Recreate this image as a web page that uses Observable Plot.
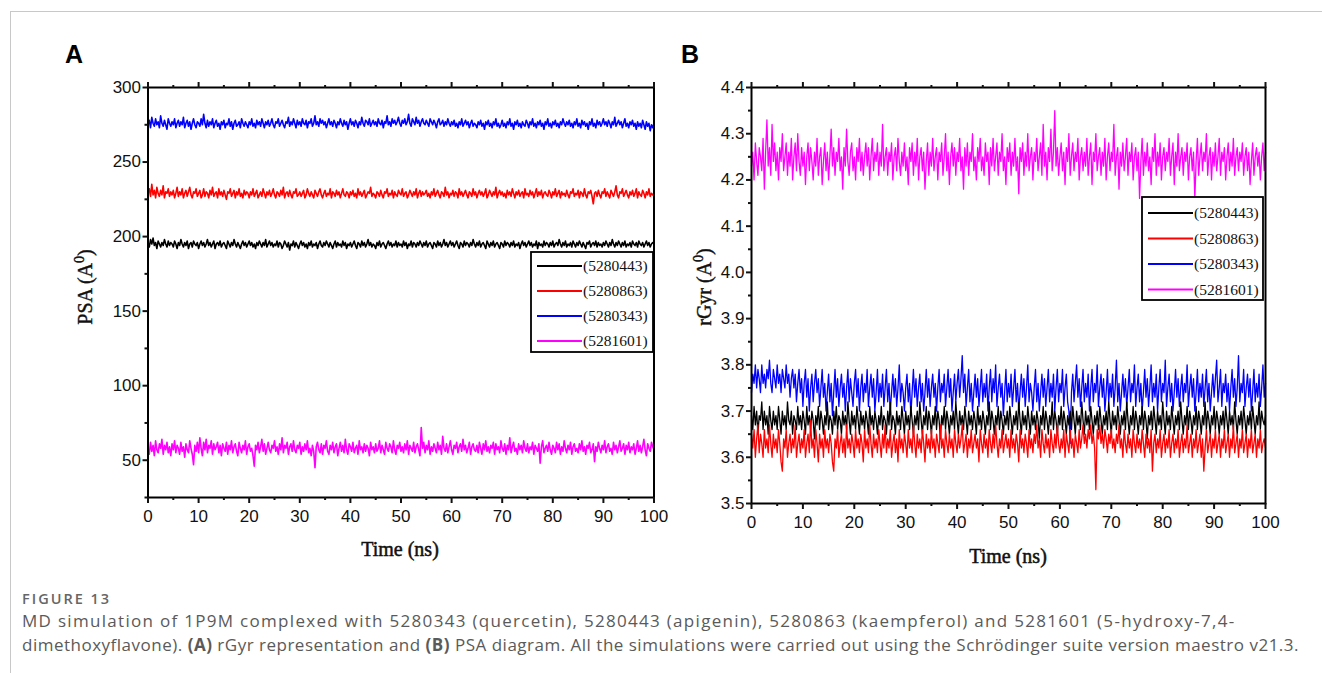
<!DOCTYPE html>
<html><head><meta charset="utf-8">
<script src="https://cdn.jsdelivr.net/npm/d3@7"></script>
<script src="https://cdn.jsdelivr.net/npm/@observablehq/plot@0.6"></script>
<style>
html,body{margin:0;padding:0;background:#fff;}
#wrap{position:relative;width:1322px;height:673px;overflow:hidden;background:#fff;}
#topline{position:absolute;left:10px;top:11px;width:1312px;height:0;border-top:1px solid #c8c8c8;}
#leftline{position:absolute;left:10px;top:11px;width:0;height:670px;border-left:1px solid #c8c8c8;}
#pa{position:absolute;left:0;top:0;}
#pb{position:absolute;left:680px;top:0;}
.plabel{position:absolute;font-family:"Liberation Sans",Arial,sans-serif;font-weight:bold;font-size:25px;color:#000;}
.cap{position:absolute;left:22px;font-family:"Open Sans",sans-serif;color:#5a5a5a;white-space:nowrap;}
</style></head>
<body><div id="wrap">
<div id="topline"></div><div id="leftline"></div>
<div id="pa"></div><div id="pb"></div>
<div class="plabel" style="left:65px;top:40px;">A</div>
<div class="plabel" style="left:681px;top:40px;">B</div>
<div class="cap" style="top:589px;font-size:14.5px;font-weight:600;letter-spacing:2px;color:#666;">FIGURE 13</div>
<div class="cap" style="top:609px;font-size:17px;line-height:24px;letter-spacing:1.3px;">MD simulation of 1P9M complexed with 5280343 (quercetin), 5280443 (apigenin), 5280863 (kaempferol) and 5281601 (5-hydroxy-7,4-</div>
<div class="cap" style="top:633px;font-size:17px;line-height:24px;letter-spacing:0.5px;">dimethoxyflavone). <b>(A)</b> rGyr representation and <b>(B)</b> PSA diagram. All the simulations were carried out using the Schrödinger suite version maestro v21.3.</div>
</div>
<script>
const seriesNames = ["(5280443)", "(5280863)", "(5280343)", "(5281601)"];
const seriesColors = ["#000000", "#ff0000", "#0000ff", "#ff00ff"];
const xMajorTicks = [0,10,20,30,40,50,60,70,80,90,100];
const xMinorTicks = [5,15,25,35,45,55,65,75,85,95];
const psaMajorTicks = [50,100,150,200,250,300];
const psaMinorTicks = [25,75,125,175,225,275];
const rgyrMajorTicks = [3.5,3.6,3.7,3.8,3.9,4.0,4.1,4.2,4.3,4.4];
const rgyrMinorTicks = [3.55,3.65,3.75,3.85,3.95,4.05,4.15,4.25,4.35];
// each series is sampled evenly over 0–100 ns

// Panel A: PSA
const psa5280443 = [196,193,198,195,199,194,196,192,197,195,193,196,194,198,195,193,197,194,196,195,
193,197,195,192,196,194,198,195,193,196,194,197,192,195,196,193,197,195,194,196,
192,195,197,194,196,193,195,198,194,196,193,195,197,192,195,196,194,197,193,195,
196,194,192,197,195,193,196,194,198,195,193,196,194,192,195,197,194,196,193,195,
197,194,196,193,195,192,196,194,197,195,193,196,194,198,193,195,197,194,196,193,
195,194,197,193,196,195,192,194,197,195,193,196,191,195,194,197,193,196,194,192,
195,197,194,196,193,195,192,196,194,197,193,195,194,196,192,195,197,194,193,196,
194,197,195,193,196,194,192,195,197,193,196,194,195,193,197,194,196,192,195,194,
196,193,195,197,194,192,196,195,193,197,194,196,193,195,198,194,196,193,195,194,
192,196,194,197,193,195,196,194,192,195,197,194,196,193,195,194,197,193,196,194,
195,193,197,194,196,192,195,194,197,193,196,195,193,196,194,197,195,193,196,194,
197,193,195,196,194,192,196,195,193,197,194,196,193,195,198,194,196,193,195,197,
194,196,193,195,197,194,192,196,195,193,197,194,196,195,193,196,194,198,195,193,
196,194,197,193,195,196,194,192,197,195,193,196,194,197,193,195,196,194,192,196,
195,193,197,194,196,195,193,196,194,197,193,195,194,196,192,195,197,194,196,193,
195,197,194,196,193,195,194,197,192,196,194,195,193,197,194,196,195,193,196,194,
197,193,195,196,194,198,195,193,196,194,197,193,195,194,196,193,197,195,193,196,
194,197,195,193,196,194,192,196,195,197,193,195,196,194,197,193,196,194,195,193,
196,194,197,195,193,196,194,198,195,193,196,194,197,195,193,196,194,197,193,195,
194,196,193,197,195,194,196,193,197,195,194,196,193,195,197,194,196,193,195,196,
195];
const psa5280863 = [229,232,227,235,228,231,226,233,229,227,231,228,234,226,230,229,232,227,230,228,
231,226,229,233,227,230,228,232,226,229,231,227,230,233,228,226,230,229,232,227,
229,231,226,228,232,227,230,229,226,231,228,233,227,229,230,226,232,228,230,227,
231,228,225,230,229,232,227,229,231,226,230,228,232,227,229,226,231,228,230,229,
226,230,228,232,227,229,231,226,228,230,227,232,229,226,230,228,231,227,229,232,
228,226,230,229,227,231,228,233,226,229,230,227,231,228,226,230,229,232,227,228,
230,227,229,231,226,228,232,229,227,230,228,226,231,229,227,230,232,228,226,229,
231,227,229,228,232,226,230,229,227,231,228,230,226,229,232,228,227,230,229,226,
230,228,231,227,229,226,232,228,230,227,229,231,226,228,230,229,233,227,229,228,
226,230,229,227,231,228,226,230,229,232,227,229,228,231,226,230,228,227,231,229,
228,232,227,229,230,226,228,231,229,227,230,228,232,226,229,231,227,230,228,229,
231,227,229,226,230,228,232,227,229,231,228,226,230,229,227,233,228,230,226,229,
228,231,227,230,229,226,232,228,230,227,229,231,228,226,230,229,227,232,228,230,
226,229,231,228,230,227,229,232,226,228,231,229,227,230,228,233,226,229,231,228,
230,227,229,226,231,228,230,227,232,229,226,230,228,231,227,229,230,226,232,228,
229,227,231,228,230,226,229,232,227,230,228,231,226,229,230,228,227,231,229,226,
230,228,232,227,229,231,226,230,228,229,227,231,228,226,230,229,232,227,229,228,
231,226,230,229,227,232,228,226,230,229,231,227,222,229,230,227,231,228,226,230,
229,232,227,230,228,226,231,229,227,230,234,228,226,230,229,232,227,229,231,228,
226,230,228,231,227,229,232,226,230,228,227,231,229,226,230,228,232,227,229,228,
227];
const psa5280343 = [275,278,273,280,276,274,279,275,277,273,281,276,274,278,275,272,279,276,274,277,
275,279,273,276,278,274,277,275,280,273,276,278,274,277,272,276,279,275,273,277,
276,274,279,275,282,276,273,278,274,277,275,279,273,276,278,274,276,272,277,275,
278,273,276,275,279,274,277,272,276,278,274,275,277,273,279,276,274,277,275,273,
277,275,279,274,276,273,278,275,277,274,279,276,273,277,275,278,274,276,279,275,
273,277,276,279,274,276,278,275,273,277,276,280,274,277,275,279,276,273,278,275,
277,274,279,276,275,278,273,277,276,279,274,276,281,275,277,274,279,276,278,275,
277,273,276,279,275,277,274,278,276,273,277,275,279,276,274,278,275,277,272,276,
279,275,277,274,278,276,273,277,275,280,276,274,278,277,275,279,274,276,278,275,
277,274,279,276,275,278,273,277,276,281,275,277,274,279,276,278,275,277,280,276,
274,278,276,279,275,277,282,276,274,279,277,275,280,276,278,274,277,279,276,275,
278,276,274,279,277,275,278,276,273,277,279,275,276,278,274,277,275,279,276,274,
277,275,278,274,276,273,277,275,279,274,276,278,275,277,273,276,278,274,276,275,
273,277,275,278,274,276,272,277,275,278,274,276,273,277,275,279,274,276,273,275,
278,274,276,273,277,275,279,274,276,272,277,275,278,274,276,273,277,275,274,278,
276,273,277,275,279,274,276,273,277,275,278,274,276,272,277,275,279,274,276,273,
277,275,278,274,276,273,277,275,279,276,274,277,275,278,274,276,273,277,275,279,
274,276,273,278,275,277,274,276,272,277,275,279,274,276,273,278,275,277,274,276,
279,275,277,274,278,276,273,277,275,280,274,276,278,275,277,273,276,279,274,276,
273,277,275,278,274,276,272,277,274,276,273,278,275,272,277,274,276,271,275,273,
276];
const psa5281601 = [58,54,62,56,60,53,63,57,55,61,58,64,54,60,57,62,55,59,53,61,
57,63,55,60,58,54,62,56,59,52,61,57,55,63,58,54,47,60,56,62,
55,65,58,53,62,57,64,55,60,58,63,54,61,57,59,62,55,60,53,61,
58,56,62,54,60,57,63,55,59,61,56,53,62,58,55,60,57,63,54,59,
61,56,58,53,46,60,57,62,55,59,64,56,61,54,58,62,57,55,60,58,
63,56,59,54,61,57,65,55,60,58,62,54,59,61,56,63,57,55,60,58,
62,54,59,56,61,57,63,55,58,53,60,56,45,59,62,57,55,61,54,60,
58,63,56,54,60,57,62,55,59,61,53,58,62,56,60,55,64,57,54,61,
59,56,62,55,58,60,54,63,57,59,55,61,56,60,58,53,62,57,59,55,
61,56,58,63,55,60,57,54,62,58,56,61,59,55,63,57,54,60,58,62,
56,59,55,61,57,63,54,60,58,56,62,55,59,61,57,53,72,58,62,55,
60,57,63,54,59,56,61,58,55,62,57,60,54,66,58,56,61,55,59,63,
57,54,60,58,62,55,59,61,56,64,57,60,55,58,62,54,59,61,57,56,
60,55,62,58,54,61,57,63,56,59,55,60,58,62,54,61,57,59,55,63,
58,56,61,54,60,57,65,55,59,62,56,58,54,61,57,60,55,63,58,56,
61,55,59,57,62,54,60,58,56,61,48,59,63,55,58,60,56,62,57,54,
60,58,55,62,57,61,54,59,56,63,58,55,60,57,62,54,59,61,56,58,
55,61,57,63,56,59,54,60,58,62,55,57,61,49,59,56,62,58,55,60,
57,63,55,59,61,56,58,54,62,57,60,55,59,63,56,58,61,54,60,57,
62,55,59,57,61,54,58,63,56,60,55,59,64,57,53,61,58,56,62,59,
57];

// Panel B: rGyr
const rgyr5280443 = [3.69,3.66,3.71,3.67,3.70,3.65,3.69,3.68,3.72,3.66,3.70,3.67,3.69,3.65,3.71,3.68,3.66,3.70,3.67,3.69,
3.66,3.71,3.68,3.65,3.70,3.67,3.69,3.66,3.72,3.68,3.67,3.70,3.65,3.69,3.68,3.66,3.71,3.67,3.69,3.66,
3.70,3.68,3.65,3.71,3.67,3.69,3.66,3.70,3.68,3.64,3.69,3.67,3.71,3.66,3.70,3.68,3.65,3.69,3.67,3.72,
3.66,3.69,3.68,3.65,3.70,3.67,3.71,3.66,3.69,3.68,3.65,3.70,3.67,3.69,3.66,3.72,3.68,3.65,3.70,3.67,
3.69,3.66,3.71,3.68,3.65,3.70,3.67,3.69,3.66,3.70,3.68,3.65,3.71,3.67,3.69,3.66,3.70,3.68,3.65,3.69,
3.67,3.71,3.66,3.69,3.68,3.65,3.70,3.67,3.72,3.66,3.69,3.68,3.65,3.70,3.67,3.69,3.66,3.71,3.68,3.65,
3.70,3.67,3.69,3.66,3.71,3.68,3.65,3.69,3.67,3.70,3.66,3.72,3.68,3.65,3.69,3.67,3.71,3.66,3.70,3.68,
3.65,3.69,3.67,3.71,3.66,3.70,3.68,3.64,3.69,3.67,3.71,3.66,3.70,3.68,3.65,3.69,3.67,3.70,3.66,3.72,
3.68,3.65,3.70,3.67,3.69,3.66,3.71,3.68,3.65,3.70,3.67,3.69,3.66,3.70,3.68,3.65,3.71,3.67,3.69,3.66,
3.70,3.68,3.65,3.69,3.67,3.72,3.66,3.70,3.68,3.65,3.69,3.67,3.71,3.66,3.70,3.68,3.65,3.69,3.67,3.70,
3.66,3.71,3.68,3.65,3.69,3.67,3.70,3.66,3.72,3.68,3.65,3.70,3.67,3.69,3.66,3.71,3.68,3.65,3.70,3.67,
3.69,3.66,3.70,3.68,3.64,3.69,3.67,3.71,3.66,3.70,3.68,3.65,3.69,3.67,3.72,3.66,3.70,3.68,3.65,3.69,
3.67,3.71,3.66,3.70,3.68,3.65,3.69,3.67,3.70,3.66,3.71,3.68,3.65,3.70,3.67,3.69,3.66,3.72,3.68,3.65,
3.70,3.67,3.69,3.66,3.71,3.68,3.65,3.69,3.67,3.70,3.66,3.71,3.68,3.65,3.69,3.67,3.70,3.66,3.72,3.68,
3.65,3.70,3.67,3.69,3.66,3.71,3.68,3.65,3.69,3.67,3.70,3.66,3.72,3.68,3.65,3.69,3.67,3.71,3.66,3.70,
3.68,3.65,3.69,3.67,3.71,3.66,3.70,3.68,3.64,3.69,3.67,3.70,3.66,3.71,3.68,3.65,3.70,3.67,3.69,3.66,
3.72,3.68,3.65,3.70,3.67,3.69,3.66,3.71,3.68,3.65,3.69,3.67,3.70,3.66,3.72,3.68,3.65,3.69,3.67,3.71,
3.66,3.70,3.68,3.65,3.69,3.67,3.71,3.66,3.70,3.68,3.65,3.69,3.67,3.72,3.66,3.70,3.68,3.65,3.69,3.67,
3.71,3.66,3.70,3.68,3.65,3.69,3.67,3.70,3.66,3.71,3.68,3.65,3.70,3.67,3.69,3.66,3.72,3.68,3.65,3.69,
3.67,3.70,3.66,3.71,3.68,3.65,3.69,3.67,3.70,3.66,3.71,3.68,3.65,3.69,3.67,3.72,3.66,3.70,3.68,3.67,
3.69];
const rgyr5280863 = [3.65,3.62,3.66,3.60,3.64,3.67,3.61,3.65,3.63,3.60,3.66,3.62,3.64,3.61,3.67,3.63,3.60,3.65,3.62,3.64,
3.61,3.66,3.63,3.59,3.57,3.64,3.62,3.66,3.60,3.63,3.65,3.61,3.64,3.62,3.67,3.60,3.63,3.65,3.61,3.64,
3.62,3.66,3.60,3.63,3.65,3.61,3.68,3.62,3.64,3.60,3.66,3.63,3.59,3.65,3.62,3.64,3.60,3.66,3.62,3.64,
3.61,3.65,3.63,3.59,3.57,3.64,3.62,3.66,3.60,3.63,3.65,3.61,3.64,3.60,3.67,3.62,3.64,3.61,3.65,3.63,
3.60,3.66,3.62,3.64,3.61,3.65,3.63,3.59,3.66,3.62,3.64,3.61,3.67,3.63,3.60,3.65,3.62,3.64,3.61,3.66,
3.63,3.60,3.65,3.62,3.67,3.61,3.64,3.62,3.66,3.60,3.63,3.65,3.61,3.64,3.59,3.66,3.62,3.64,3.61,3.65,
3.63,3.60,3.66,3.62,3.64,3.61,3.67,3.63,3.60,3.65,3.62,3.64,3.61,3.66,3.63,3.59,3.65,3.62,3.64,3.61,
3.66,3.62,3.64,3.60,3.65,3.63,3.61,3.67,3.62,3.64,3.60,3.66,3.63,3.61,3.65,3.62,3.64,3.60,3.66,3.63,
3.61,3.65,3.62,3.64,3.67,3.61,3.63,3.65,3.60,3.64,3.62,3.66,3.61,3.63,3.65,3.62,3.64,3.59,3.66,3.63,
3.61,3.65,3.62,3.64,3.60,3.66,3.63,3.61,3.65,3.62,3.67,3.63,3.60,3.64,3.62,3.66,3.61,3.63,3.65,3.62,
3.64,3.60,3.66,3.62,3.64,3.61,3.65,3.63,3.59,3.66,3.62,3.64,3.61,3.65,3.63,3.60,3.66,3.62,3.64,3.61,
3.65,3.63,3.67,3.62,3.64,3.60,3.66,3.63,3.61,3.65,3.62,3.64,3.60,3.66,3.63,3.61,3.65,3.62,3.67,3.63,
3.61,3.64,3.62,3.66,3.60,3.65,3.63,3.61,3.66,3.62,3.64,3.60,3.65,3.63,3.61,3.66,3.62,3.64,3.67,3.63,
3.65,3.62,3.66,3.64,3.67,3.63,3.65,3.62,3.53,3.66,3.64,3.67,3.63,3.65,3.62,3.66,3.64,3.61,3.65,3.63,
3.66,3.62,3.64,3.61,3.65,3.63,3.67,3.62,3.64,3.60,3.66,3.63,3.61,3.65,3.62,3.64,3.60,3.66,3.63,3.61,
3.65,3.62,3.64,3.61,3.66,3.63,3.60,3.65,3.62,3.64,3.61,3.66,3.57,3.63,3.65,3.61,3.64,3.62,3.66,3.60,
3.63,3.65,3.61,3.64,3.62,3.66,3.60,3.63,3.65,3.61,3.64,3.62,3.66,3.60,3.63,3.65,3.61,3.64,3.62,3.67,
3.61,3.63,3.65,3.60,3.64,3.62,3.66,3.61,3.63,3.65,3.60,3.64,3.57,3.62,3.66,3.61,3.63,3.65,3.60,3.64,
3.62,3.66,3.61,3.63,3.65,3.60,3.64,3.62,3.66,3.61,3.63,3.65,3.60,3.64,3.62,3.67,3.61,3.63,3.65,3.60,
3.64,3.62,3.66,3.61,3.63,3.65,3.60,3.64,3.62,3.66,3.61,3.63,3.65,3.60,3.64,3.62,3.66,3.61,3.63,3.64,
3.62];
const rgyr5280343 = [3.74,3.78,3.76,3.80,3.75,3.79,3.77,3.74,3.80,3.76,3.78,3.75,3.79,3.77,3.81,3.76,3.74,3.79,3.77,3.75,
3.80,3.76,3.78,3.74,3.79,3.77,3.75,3.80,3.76,3.78,3.73,3.77,3.79,3.75,3.78,3.72,3.76,3.79,3.74,3.77,
3.71,3.76,3.79,3.73,3.77,3.70,3.75,3.78,3.72,3.76,3.79,3.74,3.77,3.71,3.75,3.79,3.73,3.76,3.70,3.74,
3.78,3.72,3.76,3.69,3.74,3.79,3.73,3.77,3.71,3.75,3.78,3.73,3.76,3.70,3.75,3.79,3.72,3.77,3.74,3.71,
3.76,3.79,3.73,3.77,3.70,3.75,3.78,3.72,3.76,3.74,3.79,3.71,3.75,3.78,3.73,3.77,3.70,3.74,3.79,3.72,
3.76,3.73,3.78,3.71,3.75,3.79,3.72,3.76,3.70,3.74,3.78,3.73,3.77,3.71,3.75,3.80,3.72,3.76,3.74,3.70,
3.75,3.78,3.72,3.76,3.69,3.74,3.79,3.73,3.77,3.71,3.75,3.78,3.72,3.76,3.70,3.74,3.79,3.73,3.77,3.71,
3.75,3.78,3.73,3.76,3.70,3.75,3.79,3.72,3.76,3.74,3.78,3.71,3.75,3.79,3.73,3.77,3.70,3.74,3.78,3.72,
3.76,3.79,3.73,3.77,3.82,3.74,3.78,3.71,3.75,3.79,3.72,3.76,3.70,3.74,3.78,3.73,3.77,3.71,3.75,3.79,
3.72,3.76,3.73,3.78,3.70,3.75,3.79,3.72,3.77,3.74,3.80,3.71,3.75,3.78,3.73,3.76,3.69,3.74,3.79,3.72,
3.76,3.73,3.78,3.71,3.75,3.79,3.72,3.76,3.70,3.74,3.78,3.73,3.77,3.71,3.75,3.80,3.72,3.76,3.74,3.70,
3.75,3.79,3.72,3.76,3.70,3.74,3.78,3.73,3.77,3.71,3.75,3.79,3.72,3.76,3.73,3.78,3.70,3.75,3.79,3.72,
3.76,3.74,3.79,3.71,3.75,3.78,3.72,3.70,3.63,3.74,3.78,3.72,3.76,3.80,3.73,3.77,3.71,3.75,3.79,3.72,
3.76,3.73,3.78,3.70,3.75,3.79,3.72,3.76,3.74,3.80,3.71,3.75,3.78,3.73,3.77,3.70,3.74,3.79,3.72,3.76,
3.73,3.78,3.71,3.75,3.81,3.72,3.76,3.70,3.74,3.78,3.73,3.77,3.71,3.75,3.79,3.72,3.76,3.74,3.80,3.71,
3.75,3.78,3.72,3.76,3.70,3.74,3.79,3.73,3.77,3.71,3.75,3.80,3.72,3.76,3.73,3.78,3.70,3.75,3.79,3.72,
3.76,3.74,3.81,3.71,3.75,3.78,3.72,3.76,3.70,3.74,3.79,3.73,3.77,3.71,3.75,3.78,3.72,3.76,3.74,3.80,
3.71,3.75,3.78,3.73,3.77,3.70,3.74,3.79,3.72,3.76,3.73,3.78,3.71,3.75,3.79,3.72,3.76,3.70,3.74,3.78,
3.73,3.77,3.81,3.72,3.75,3.79,3.71,3.76,3.74,3.78,3.72,3.76,3.70,3.75,3.79,3.73,3.77,3.71,3.75,3.82,
3.72,3.76,3.74,3.79,3.71,3.75,3.78,3.73,3.77,3.70,3.74,3.79,3.72,3.76,3.73,3.78,3.71,3.75,3.80,3.73,
3.76];
const rgyr5281601 = [4.23,4.26,4.20,4.28,4.24,4.21,4.27,4.25,4.22,4.29,4.18,4.26,4.33,4.23,4.27,4.21,4.32,4.24,4.28,4.22,
4.26,4.20,4.27,4.24,4.30,4.22,4.25,4.28,4.21,4.26,4.23,4.29,4.20,4.25,4.28,4.22,4.30,4.24,4.21,4.27,
4.23,4.26,4.19,4.25,4.28,4.22,4.27,4.24,4.20,4.26,4.23,4.29,4.21,4.25,4.27,4.19,4.24,4.28,4.22,4.26,
4.20,4.25,4.31,4.23,4.27,4.21,4.26,4.24,4.29,4.22,4.25,4.18,4.27,4.23,4.31,4.24,4.21,4.26,4.28,4.22,
4.25,4.20,4.27,4.24,4.29,4.22,4.26,4.21,4.25,4.28,4.23,4.27,4.20,4.25,4.29,4.22,4.26,4.24,4.28,4.21,
4.26,4.23,4.32,4.22,4.25,4.27,4.21,4.26,4.24,4.28,4.20,4.25,4.27,4.22,4.29,4.24,4.21,4.26,4.23,4.28,
4.22,4.25,4.19,4.27,4.24,4.28,4.21,4.26,4.23,4.29,4.20,4.25,4.27,4.22,4.26,4.18,4.24,4.28,4.21,4.26,
4.23,4.29,4.22,4.25,4.27,4.20,4.26,4.24,4.28,4.21,4.25,4.30,4.22,4.26,4.19,4.25,4.28,4.23,4.27,4.21,
4.26,4.24,4.29,4.22,4.25,4.18,4.27,4.23,4.28,4.21,4.26,4.24,4.30,4.22,4.25,4.20,4.27,4.24,4.29,4.22,
4.25,4.21,4.28,4.24,4.26,4.19,4.27,4.23,4.29,4.22,4.25,4.28,4.21,4.26,4.24,4.30,4.22,4.25,4.19,4.27,
4.24,4.28,4.21,4.26,4.23,4.29,4.22,4.25,4.17,4.27,4.24,4.28,4.21,4.26,4.23,4.30,4.22,4.25,4.27,4.20,
4.26,4.24,4.29,4.22,4.25,4.28,4.21,4.32,4.23,4.26,4.20,4.27,4.24,4.31,4.22,4.26,4.35,4.23,4.27,4.21,
4.25,4.28,4.22,4.26,4.19,4.27,4.24,4.30,4.21,4.25,4.28,4.22,4.26,4.24,4.29,4.20,4.25,4.27,4.22,4.26,
4.23,4.29,4.21,4.25,4.28,4.19,4.26,4.24,4.30,4.22,4.25,4.27,4.21,4.26,4.23,4.29,4.20,4.25,4.28,4.22,
4.26,4.24,4.32,4.21,4.25,4.27,4.18,4.26,4.23,4.28,4.22,4.25,4.29,4.21,4.26,4.24,4.28,4.20,4.25,4.27,
4.22,4.26,4.16,4.24,4.29,4.21,4.26,4.23,4.28,4.22,4.25,4.19,4.27,4.24,4.30,4.21,4.26,4.23,4.28,4.20,
4.25,4.27,4.22,4.26,4.24,4.29,4.21,4.25,4.28,4.19,4.26,4.23,4.30,4.22,4.25,4.27,4.21,4.26,4.24,4.28,
4.20,4.25,4.27,4.22,4.26,4.16,4.24,4.29,4.21,4.25,4.28,4.22,4.26,4.24,4.30,4.21,4.25,4.27,4.20,4.26,
4.23,4.28,4.22,4.25,4.29,4.21,4.26,4.24,4.27,4.20,4.25,4.28,4.22,4.26,4.23,4.29,4.21,4.25,4.27,4.22,
4.26,4.24,4.28,4.21,4.25,4.27,4.22,4.26,4.19,4.24,4.28,4.21,4.25,4.27,4.23,4.26,4.20,4.25,4.28,4.22,
4.26];

const blank = () => "";
function panel(cfg) {
  const lines = cfg.order.map(j => {
    const vals = cfg.series[j];
    return Plot.line(vals, {
      x: (d, i) => i * 100 / (vals.length - 1), y: d => d,
      stroke: seriesColors[j], strokeWidth: cfg.sw
    });
  });
  return Plot.plot({
    width: cfg.width, height: cfg.height,
    marginLeft: cfg.ml, marginRight: cfg.mr, marginTop: cfg.mt, marginBottom: cfg.mb,
    x: {domain: [0, 100]},
    y: {domain: cfg.ydomain},
    style: {fontFamily: '"Liberation Sans", Arial, sans-serif', fontSize: "17px", color: "#111", background: "transparent", overflow: "visible"},
    marks: [
      ...lines,
      Plot.frame({stroke: "#000", strokeWidth: 2}),
      Plot.axisX({ticks: xMajorTicks, anchor: "bottom", tickSize: 6, tickPadding: 6, strokeWidth: 2, label: null, fill: "#111"}),
      Plot.axisX({ticks: xMinorTicks, anchor: "bottom", tickSize: 3, tickFormat: blank, strokeWidth: 2, label: null}),
      Plot.axisX({ticks: xMajorTicks, anchor: "top", tickSize: 6, tickFormat: blank, strokeWidth: 2, label: null}),
      Plot.axisX({ticks: xMinorTicks, anchor: "top", tickSize: 3, tickFormat: blank, strokeWidth: 2, label: null}),
      Plot.axisY({ticks: cfg.yMajor, anchor: "left", tickSize: 5, tickPadding: 2, tickFormat: cfg.yfmt, strokeWidth: 2, label: null, fill: "#111"}),
      Plot.axisY({ticks: cfg.yMinor, anchor: "left", tickSize: 3, tickFormat: blank, strokeWidth: 2, label: null})
    ]
  });
}

function decorate(svg, d) {
  const s = d3.select(svg);
  const serif = '"Liberation Serif", "Times New Roman", serif';
  s.append("text").attr("x", d.xt).attr("y", d.yt).attr("text-anchor", "middle")
    .attr("font-family", serif).attr("font-size", 20).attr("fill", "#111")
    .attr("stroke", "#111").attr("stroke-width", 0.5)
    .text("Time (ns)");
  const yl = s.append("text").attr("transform", `translate(${d.xy},${d.yy}) rotate(-90)`)
    .attr("text-anchor", "middle").attr("font-family", serif).attr("font-size", 20).attr("fill", "#111")
    .attr("stroke", "#111").attr("stroke-width", 0.4);
  yl.append("tspan").text(d.ylab + " (A");
  yl.append("tspan").attr("dy", -8).attr("font-size", 14).text("0");
  yl.append("tspan").attr("dy", 8).text(")");
  // legend
  const g = s.append("g");
  g.append("rect").attr("x", d.lx).attr("y", d.ly).attr("width", d.lw).attr("height", d.lh)
    .attr("fill", "#fff").attr("stroke", "#000").attr("stroke-width", 1.8);
  seriesNames.forEach((n, i) => {
    const yy = d.ly + d.l0 + i * d.ldy;
    g.append("line").attr("x1", d.lx + 6).attr("x2", d.lx + 51).attr("y1", yy).attr("y2", yy)
      .attr("stroke", seriesColors[i]).attr("stroke-width", 2);
    g.append("text").attr("x", d.lx + 52).attr("y", yy + 5).attr("text-anchor", "start")
      .attr("font-family", serif).attr("font-size", 15.5).attr("fill", "#111").text(n);
  });
}

const svgA = panel({
  width: 680, height: 580, ml: 147.5, mr: 26.5, mt: 87, mb: 83, sw: 1.6,
  ydomain: [25, 300], yMajor: psaMajorTicks, yMinor: psaMinorTicks, yfmt: d3.format("d"),
  series: [psa5280443, psa5280863, psa5280343, psa5281601], order: [0, 1, 2, 3]
});
document.getElementById("pa").appendChild(svgA);
decorate(svgA, {xt: 400, yt: 556, xy: 92, yy: 287, ylab: "PSA",
  lx: 531, ly: 252, lw: 122, lh: 100, l0: 14, ldy: 25});

const svgB = panel({
  width: 642, height: 580, ml: 71, mr: 57, mt: 87, mb: 77, sw: 1.3,
  ydomain: [3.5, 4.4], yMajor: rgyrMajorTicks, yMinor: rgyrMinorTicks, yfmt: d3.format(".1f"),
  series: [rgyr5280443, rgyr5280863, rgyr5280343, rgyr5281601], order: [3, 2, 0, 1]
});
document.getElementById("pb").appendChild(svgB);
decorate(svgB, {xt: 328, yt: 563, xy: 31, yy: 287, ylab: "rGyr",
  lx: 462, ly: 197, lw: 121, lh: 103, l0: 16, ldy: 25.5});
</script>
</body></html>
